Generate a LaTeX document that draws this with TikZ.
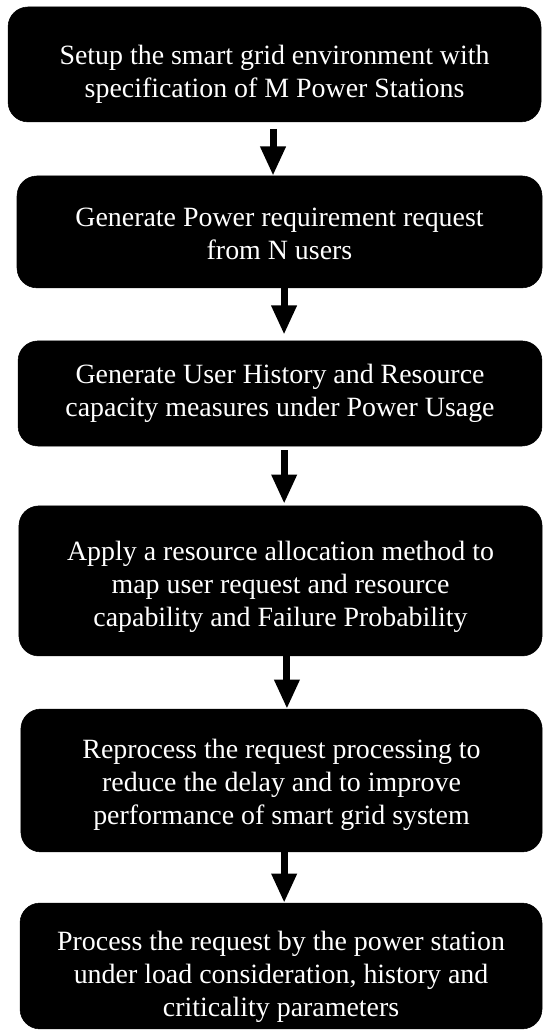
\documentclass[tikz,border=0pt]{standalone}
\usepackage{fontspec}
\setmainfont{Liberation Serif}
\usetikzlibrary{arrows.meta,calc}

\begin{document}
\begin{tikzpicture}[
		stage/.style={rectangle,rounded corners=15pt,fill=black,draw=black,inner sep=0pt},
		txt/.style={text=white,align=center,inner sep=0pt,font=\fontsize{21}{24.75}\selectfont},
		flow/.style={-{Triangle[width=18pt,length=22pt]},line width=5.25pt}
		]
		\useasboundingbox (0,0) rectangle (14.34,27.25);
		\node[stage,minimum width=14.10cm,minimum height=3.04cm] (setup) at (7.263,25.545) {};
		\node[stage,minimum width=13.89cm,minimum height=2.96cm] (gen) at (7.395,21.114) {};
		\node[stage,minimum width=13.86cm,minimum height=2.78cm] (hist) at (7.408,16.840) {};
		\node[stage,minimum width=13.84cm,minimum height=3.97cm] (alloc) at (7.421,11.880) {};
		\node[stage,minimum width=13.79cm,minimum height=3.78cm] (repro) at (7.448,6.601) {};
		\node[stage,minimum width=13.81cm,minimum height=3.33cm] (proc) at (7.435,1.693) {};
		
		\node[txt] (setupT) at ([yshift=-.26cm]setup.center)
			{Setup the smart grid environment with\\specification of M Power Stations};
		\node[txt] (genT) at ([yshift=-.05cm]gen.center)
			{Generate Power requirement request\\from N users};
		\node[txt] (histT) at (hist.center)
			{Generate User History and Resource\\capacity measures under Power Usage};
		\node[txt] (allocT) at ([yshift=-.16cm]alloc.center)
			{Apply a resource allocation method to\\map user request and resource\\capability and Failure Probability};
		\node[txt] (reproT) at ([yshift=-.11cm]repro.center)
			{Reprocess the request processing to\\reduce the delay and to improve\\performance of smart grid system};
		\node[txt] (procT) at ([yshift=-.29cm]proc.center)
			{Process the request by the power station\\under load consideration, history and\\criticality parameters};
		
		\draw[flow] ([xshift=-.04cm,yshift=-.18cm]setup.south) -- ([xshift=-.04cm]setup.south |- gen.north);
		\draw[flow] ([xshift=.12cm]gen.south) -- ([xshift=.12cm,yshift=.16cm]gen.south |- hist.north);
		\draw[flow] ([xshift=.11cm,yshift=-.1cm]hist.south) -- ([xshift=.11cm,yshift=.05cm]hist.south |- alloc.north);
		\draw[flow] ([xshift=.17cm]alloc.south) -- ([xshift=.17cm]alloc.south |- repro.north);
		\draw[flow] ([xshift=.07cm]repro.south) -- ([xshift=.07cm]repro.south |- proc.north);
	\end{tikzpicture}
\end{document}
